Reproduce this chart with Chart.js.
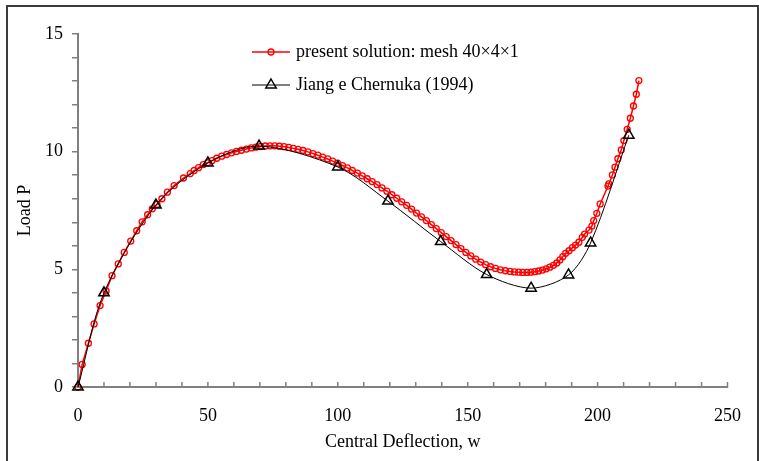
<!DOCTYPE html>
<html>
<head>
<meta charset="utf-8">
<script src="https://cdn.jsdelivr.net/npm/chart.js@4.4.1/dist/chart.umd.min.js"></script>
<style>
html, body { margin: 0; padding: 0; background: #fff; }
#wrap { position: relative; width: 759px; height: 461px; overflow: hidden; }
#graf { position: absolute; left: 0; top: 0; }
#ramecek { position: absolute; left: 6px; top: 5px; width: 749px; height: 470px; border: 2px solid #3c3c3c; pointer-events: none; }
</style>
</head>
<body>
<div id="wrap"><canvas id="graf" width="759" height="461"></canvas><div id="ramecek"></div></div>
<script>
// present solution (red circles)
const presentW = [0, 1.6, 4.0, 6.2, 8.5, 10.8, 13.1, 15.5, 17.8, 20.3, 22.6, 24.7, 26.8, 28.6, 30.4, 32.3, 34.4, 37.0, 40.6, 43.2,
    44.7, 46.4, 48.2, 49.9, 51.6, 53.4, 55.3, 57.2, 59.1, 61.0, 62.9, 64.8, 66.7, 68.5, 70.3, 72.1, 73.9, 75.7, 77.5, 79.3,
    81.1, 82.9, 84.7, 86.6, 88.5, 90.4, 92.3, 94.2, 96.1, 98.0, 99.9, 101.8, 103.7, 105.6, 107.5, 109.4, 111.3, 113.2, 115.1, 117.0,
    118.9, 120.8, 122.7, 124.6, 126.5, 128.4, 130.3, 132.2, 134.1, 136.0, 137.9, 139.8, 141.7, 143.6, 145.5, 147.4, 149.3, 151.2, 153.1, 155.0,
    156.9, 158.8, 160.7, 162.6, 164.5, 166.3, 168.0, 169.6, 171.2, 172.8, 174.3, 175.8, 177.3, 178.8, 180.2, 181.6, 183.0, 184.3, 185.5, 186.6,
    187.7, 189.0, 190.3, 191.5, 192.8, 194.1, 195.0, 196.7, 197.8, 198.5, 199.7, 201.0, 204.0, 204.3, 205.7, 206.7, 207.8, 209.1, 210.1, 211.4,
    212.6, 213.8, 214.9, 215.9];
const presentP = [0, 0.96, 1.86, 2.68, 3.46, 4.08, 4.73, 5.23, 5.72, 6.2, 6.64, 7.02, 7.32, 7.57, 7.76, 8.0, 8.28, 8.56, 8.88, 9.07,
    9.2, 9.32, 9.45, 9.53, 9.62, 9.72, 9.81, 9.88, 9.95, 10.01, 10.06, 10.11, 10.16, 10.19, 10.22, 10.24, 10.25, 10.25, 10.23, 10.21,
    10.18, 10.14, 10.1, 10.05, 9.99, 9.92, 9.85, 9.77, 9.69, 9.6, 9.51, 9.41, 9.31, 9.2, 9.09, 8.97, 8.85, 8.73, 8.6, 8.46,
    8.32, 8.17, 8.02, 7.87, 7.72, 7.56, 7.39, 7.23, 7.07, 6.9, 6.73, 6.56, 6.39, 6.22, 6.05, 5.88, 5.72, 5.57, 5.43, 5.31,
    5.2, 5.11, 5.04, 4.98, 4.94, 4.91, 4.89, 4.88, 4.87, 4.87, 4.88, 4.9, 4.93, 4.97, 5.02, 5.09, 5.17, 5.27, 5.4, 5.54,
    5.68, 5.79, 5.92, 6.03, 6.15, 6.36, 6.5, 6.67, 6.84, 7.07, 7.38, 7.78, 8.54, 8.63, 9.01, 9.34, 9.7, 10.07, 10.47, 10.95,
    11.42, 11.94, 12.44, 13.02];
// Jiang e Chernuka (1994) (black triangles)
const jiangW = [0, 10, 30, 50, 69.7, 100, 119.3, 139.6, 157.3, 174.4, 188.8, 197.3, 212];
const jiangP = [0, 4.0, 7.73, 9.52, 10.24, 9.35, 7.9, 6.18, 4.78, 4.2, 4.76, 6.12, 10.7];

const nazvy = ["present solution: mesh 40\u00d74\u00d71", "Jiang e Chernuka (1994)"];
const xMin = 0, xMax = 250, xKrok = 10, xPopisKrok = 50;
const yMin = 0, yMax = 15, yKrok = 1, yPopisKrok = 5;

const pismo = "'Liberation Serif', 'Times New Roman', serif";
const seda = "#808080";

function body(xs, ys) { return xs.map(function(v, i) { return { x: v, y: ys[i] }; }); }

const znackyX = {
    id: "znackyX",
    beforeDatasetsDraw: function(chart) {
        const s = chart.scales.x, ctx = chart.ctx, y = chart.chartArea.bottom;
        ctx.save();
        ctx.strokeStyle = seda; ctx.lineWidth = 1.5;
        s.ticks.forEach(function(t) {
            const px = s.getPixelForValue(t.value);
            ctx.beginPath(); ctx.moveTo(px, y - 5); ctx.lineTo(px, y + 1); ctx.stroke();
        });
        ctx.restore();
    }
};

const legenda = {
    id: "legenda",
    afterDraw: function(chart) {
        const ctx = chart.ctx;
        const x0 = 252, x1 = 290, xt = 296, radky = [52, 85];
        ctx.save();
        chart.data.datasets.forEach(function(ds, i) {
            const y = radky[i], xm = (x0 + x1) / 2;
            ctx.strokeStyle = ds.borderColor; ctx.lineWidth = ds.borderWidth;
            ctx.beginPath(); ctx.moveTo(x0, y); ctx.lineTo(x1, y); ctx.stroke();
            ctx.lineWidth = ds.pointBorderWidth; ctx.strokeStyle = ds.pointBorderColor;
            ctx.fillStyle = "#fff";
            ctx.beginPath();
            if (ds.pointStyle === "triangle") {
                const r = ds.pointRadius;
                ctx.moveTo(xm, y - r); ctx.lineTo(xm + r * 0.866, y + r / 2); ctx.lineTo(xm - r * 0.866, y + r / 2); ctx.closePath();
            } else {
                ctx.arc(xm, y, ds.pointRadius, 0, Math.PI * 2);
            }
            ctx.stroke();
            ctx.fillStyle = "#000"; ctx.font = "18px " + pismo; ctx.textBaseline = "middle"; ctx.textAlign = "left";
            ctx.fillText(ds.label, xt, y);
        });
        ctx.restore();
    }
};

new Chart(document.getElementById("graf"), {
    type: "scatter",
    data: {
        datasets: [
            { label: nazvy[0], data: body(presentW, presentP), showLine: true, borderColor: "#ff0000", borderWidth: 1.5,
              pointStyle: "circle", pointRadius: 3, pointBorderWidth: 1.3, pointBorderColor: "#ff0000", pointBackgroundColor: "rgba(0,0,0,0)",
              tension: 0, clip: false, order: 1 },
            { label: nazvy[1], data: body(jiangW, jiangP), showLine: true, borderColor: "#000000", borderWidth: 1,
              pointStyle: "triangle", pointRadius: 6, pointBorderWidth: 1.5, pointBorderColor: "#000000", pointBackgroundColor: "rgba(0,0,0,0)",
              tension: 0.3, clip: false, order: 0 }
        ]
    },
    options: {
        responsive: false,
        animation: false,
        devicePixelRatio: 1,
        layout: { padding: { left: 8, top: 34, right: 31, bottom: 0 } },
        plugins: { legend: { display: false }, tooltip: { enabled: false } },
        scales: {
            x: {
                type: "linear", min: xMin, max: xMax,
                afterFit: function(s) { s.height = 74; },
                border: { color: seda, width: 2 },
                grid: { display: false, drawTicks: false },
                ticks: { stepSize: xKrok, autoSkip: false, maxRotation: 0, padding: 18, color: "#000",
                    font: { family: pismo, size: 18 },
                    callback: function(v) { return v % xPopisKrok === 0 ? v : ""; } },
                title: { display: true, text: "Central Deflection, w", color: "#000", font: { family: pismo, size: 18 }, padding: { top: 0, bottom: 8 } }
            },
            y: {
                type: "linear", min: yMin, max: yMax,
                afterFit: function(s) { s.width = 70; },
                border: { color: seda, width: 2 },
                grid: { display: true, drawOnChartArea: false, drawTicks: true, tickLength: 6, color: seda, lineWidth: 1.5 },
                ticks: { stepSize: yKrok, autoSkip: false, padding: 9, color: "#000",
                    font: { family: pismo, size: 18 },
                    callback: function(v) { return v % yPopisKrok === 0 ? v : ""; } },
                title: { display: true, text: "Load P", color: "#000", font: { family: pismo, size: 18 }, padding: { top: 6, bottom: 0 } }
            }
        }
    },
    plugins: [znackyX, legenda]
});
</script>
</body>
</html>
